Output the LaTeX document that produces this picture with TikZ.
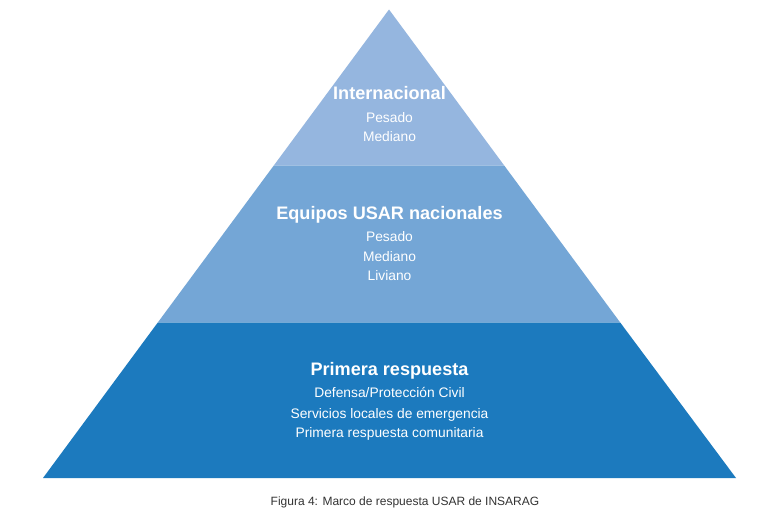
\documentclass[tikz,border=0pt]{standalone}
\usepackage{fontspec}
\setmainfont{Liberation Sans}
\definecolor{tierA}{HTML}{95B6DF}
\definecolor{tierB}{HTML}{74A6D6}
\definecolor{tierC}{HTML}{1C7ABE}
\definecolor{captxt}{HTML}{333333}
\begin{document}
\begin{tikzpicture}[x=1pt,y=-1pt,
  head/.style={anchor=base,text=white,font=\fontsize{18.1}{20}\selectfont\bfseries,inner sep=0pt},
  sub/.style={anchor=base,text=white,font=\fontsize{13.8}{16}\selectfont,inner sep=0pt},
  captext/.style={anchor=base,text=captxt,font=\fontsize{12}{14}\selectfont,inner sep=0pt}]
\useasboundingbox[fill=white] (0,0) rectangle (783,511);
% tiers
\fill[tierA] (389,9.5) -- (504.2,165.5) -- (273.8,165.5) -- cycle;
\fill[tierB] (273.8,165.5) -- (504.2,165.5) -- (620.2,322.5) -- (157.8,322.5) -- cycle;
\fill[tierC] (157.8,322.5) -- (620.2,322.5) -- (736,478) -- (43,478) -- cycle;
% top tier
\node[head] (h1) at (389.5,99) {Internacional};
\node[sub] (a1) at (389.5,122) {Pesado};
\node[sub] (a2) at (389.5,141.5) {Mediano};
% middle tier
\node[head] (h2) at (389.5,219) {Equipos USAR nacionales};
\node[sub] (b1) at (389.5,241.7) {Pesado};
\node[sub] (b2) at (389.5,261.5) {Mediano};
\node[sub] (b3) at (389.5,280.5) {Liviano};
% bottom tier
\node[head] (h3) at (389.5,375.7) {Primera respuesta};
\node[sub] (c1) at (389.5,397.7) {Defensa/Protección Civil};
\node[sub] (c2) at (389.5,418) {Servicios locales de emergencia};
\node[sub] (c3) at (389.5,437.7) {Primera respuesta comunitaria};
% caption
\node[captext] (capt) at (405,505) {Figura 4: Marco de respuesta USAR de INSARAG};
\end{tikzpicture}
\end{document}
